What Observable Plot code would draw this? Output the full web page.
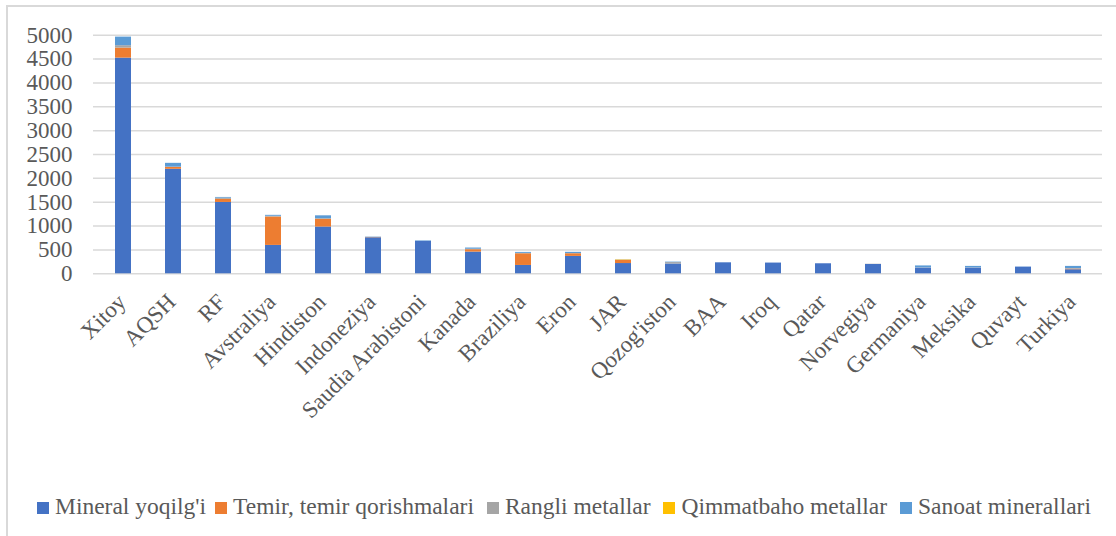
<!DOCTYPE html>
<html><head><meta charset="utf-8">
<script src="https://cdn.jsdelivr.net/npm/d3@7"></script>
<script src="https://cdn.jsdelivr.net/npm/@observablehq/plot@0.6"></script>
<style>
html,body{margin:0;padding:0;background:#fff;width:1116px;height:536px;overflow:hidden;}
#frame{position:absolute;left:6px;top:5px;width:1200px;height:600px;border-left:2px solid #d9d9d9;border-top:2px solid #d9d9d9;}
#chart{position:absolute;left:0;top:0;}
#legend{position:absolute;left:37px;top:494px;white-space:nowrap;font-family:"Liberation Serif","Times New Roman","DejaVu Serif",serif;font-size:23.5px;line-height:24px;color:#595959;}
#legend .item{display:inline-block;margin-right:13px;}
#legend .item:first-child{margin-right:9px;}
#legend .sw{display:inline-block;width:12px;height:12px;margin-right:6px;vertical-align:0px;}
</style>
</head><body>
<div id="frame"></div>
<div id="chart"></div>
<div id="legend"></div>
<script>
const countries = ["Xitoy","AQSH","RF","Avstraliya","Hindiston","Indoneziya","Saudia Arabistoni","Kanada","Braziliya","Eron","JAR","Qozog'iston","BAA","Iroq","Qatar","Norvegiya","Germaniya","Meksika","Quvayt","Turkiya"];
const seriesNames = ["Mineral yoqilg'i","Temir, temir qorishmalari","Rangli metallar","Qimmatbaho metallar","Sanoat minerallari"];
const seriesColors = ["#4472C4","#ED7D31","#A5A5A5","#FFC000","#5B9BD5"];
const mineral = [4520,2190,1495,595,980,755,680,455,175,365,215,205,230,225,210,195,120,120,140,85];
const temir   = [210,40,65,595,160,5,0,50,245,55,65,0,0,0,0,0,0,0,0,15];
const rangli  = [50,5,25,15,15,5,0,10,8,5,8,30,0,0,0,5,5,5,0,5];
const qimmat  = [0,0,0,0,0,0,0,0,0,0,7,0,0,0,0,0,0,0,0,0];
const sanoat  = [180,80,15,20,60,5,10,25,20,25,0,10,2,0,0,0,40,30,2,50];
const yTicks = [0,500,1000,1500,2000,2500,3000,3500,4000,4500,5000];

const seriesValues = [mineral, temir, rangli, qimmat, sanoat];
const data = [];
countries.forEach((c, i) => {
  seriesNames.forEach((s, j) => data.push({country: c, series: s, value: seriesValues[j][i]}));
});

const FONT = '"Liberation Serif","Times New Roman","DejaVu Serif",serif';
const chart = Plot.plot({
  width: 1116,
  height: 470,
  marginLeft: 93,
  marginRight: 14,
  marginTop: 34.7,
  marginBottom: 196.7,
  style: {fontFamily: FONT, background: "transparent"},
  x: {type: "band", domain: countries, paddingInner: 0.687, paddingOuter: 0.3435, axis: null},
  y: {domain: [0, 5000], axis: null},
  color: {domain: seriesNames, range: seriesColors},
  marks: [
    Plot.gridY(yTicks, {stroke: "#d9d9d9", strokeOpacity: 1, strokeWidth: 1.5}),
    Plot.barY(data, {x: "country", y: "value", fill: "series", z: "series", order: seriesNames}),
    Plot.axisY(yTicks, {tickSize: 0, tickPadding: 21, fontSize: 23, fill: "#595959", label: null, tickFormat: d => String(d)}),
    Plot.text(countries, {x: d => d, frameAnchor: "bottom", dy: 18, dx: -8, rotate: -45, textAnchor: "end", lineAnchor: "top", fontSize: 23, fill: "#595959"})
  ]
});
document.getElementById("chart").appendChild(chart);

const legend = d3.select("#legend");
seriesNames.forEach((s, i) => {
  const it = legend.append("span").attr("class", "item");
  it.append("span").attr("class", "sw").style("background", seriesColors[i]);
  it.append("span").text(s);
});
</script>
</body></html>
